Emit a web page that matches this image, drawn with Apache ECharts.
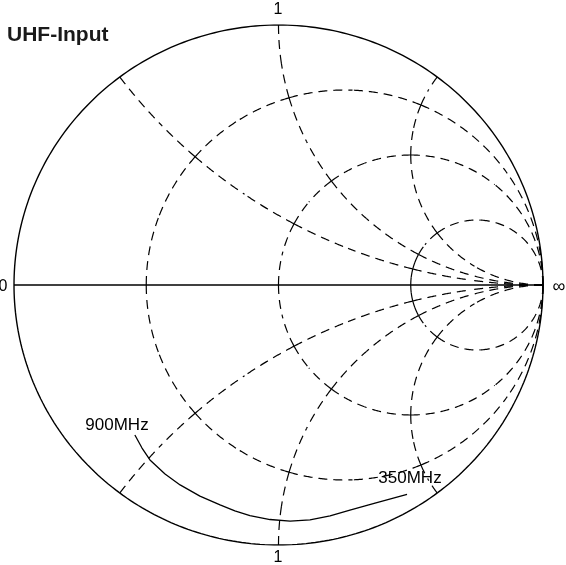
<!DOCTYPE html>
<html>
<head>
<meta charset="utf-8">
<script src="https://cdn.jsdelivr.net/npm/echarts@6/dist/echarts.min.js"></script>
<style>
html,body{margin:0;padding:0;background:#fff;}
#chart{width:566px;height:565px;}
</style>
</head>
<body>
<div id="chart"></div>
<script>
// Smith chart grid values
const resistanceValues = [1/3, 1, 3];
const reactanceValues = [0.5, 1, 2];
// Measured reflection coefficient trace (real / imaginary), 900MHz -> 350MHz
const curveRe = [-0.543, -0.516, -0.486, -0.429, -0.372, -0.297, -0.221, -0.165, -0.108, -0.032, 0.044, 0.119, 0.195, 0.270, 0.365, 0.486];
const curveIm = [-0.577, -0.627, -0.673, -0.727, -0.769, -0.812, -0.846, -0.869, -0.887, -0.902, -0.908, -0.903, -0.888, -0.866, -0.839, -0.805];
// Text labels
const title = 'UHF-Input';
const freqLabels = ['900MHz', '350MHz'];
const edgeLabels = ['0', '1', '1', '\u221E'];

const FONT = '"Liberation Sans", Arial, sans-serif';

function gamma(a, b) {
  const den = (a + 1) * (a + 1) + b * b;
  return [(a * a + b * b - 1) / den, 2 * b / den];
}
function tanSafe(t) {
  if (t >= Math.PI / 2 - 1e-9) return 1e7;
  if (t <= -Math.PI / 2 + 1e-9) return -1e7;
  return Math.tan(t);
}

// Build dashed grid segments (split at intersections, each half drawn from its end)
const segData = [];
const xBreaks = [-Math.PI / 2];
[...reactanceValues].reverse().forEach(x => xBreaks.push(Math.atan(-x)));
xBreaks.push(0);
reactanceValues.forEach(x => xBreaks.push(Math.atan(x)));
xBreaks.push(Math.PI / 2);
const rBreaks = [0];
resistanceValues.forEach(r => rBreaks.push(Math.atan(r)));
rBreaks.push(Math.PI / 2);

resistanceValues.forEach(r => {
  for (let i = 0; i < xBreaks.length - 1; i++) {
    const a0 = xBreaks[i], a1 = xBreaks[i + 1], m = (a0 + a1) / 2;
    segData.push([0, r, a0, m]);
    segData.push([0, r, a1, m]);
  }
});
reactanceValues.forEach(x => {
  [x, -x].forEach(xv => {
    for (let i = 0; i < rBreaks.length - 1; i++) {
      const a0 = rBreaks[i], a1 = rBreaks[i + 1], m = (a0 + a1) / 2;
      segData.push([1, xv, a0, m]);
      segData.push([1, xv, a1, m]);
    }
  });
});

// Outer circle (r = 0)
const outer = [];
for (let i = 0; i <= 360; i++) {
  const t = i * Math.PI / 180;
  outer.push([Math.cos(t), Math.sin(t)]);
}
const curveData = curveRe.map((v, i) => [v, curveIm[i]]);

const chart = echarts.init(document.getElementById('chart'), null, {renderer: 'canvas'});
chart.setOption({
  animation: false,
  backgroundColor: '#fff',
  grid: {left: 14, right: 23, top: 25, bottom: 20},
  xAxis: {type: 'value', min: -1, max: 1, show: false},
  yAxis: {type: 'value', min: -1, max: 1, show: false},
  series: [
    {
      type: 'custom',
      silent: true,
      data: segData,
      encode: {x: 2, y: 3},
      renderItem: function (params, api) {
        const kind = api.value(0), val = api.value(1), t0 = api.value(2), t1 = api.value(3);
        const pts = [];
        const N = 60;
        for (let k = 0; k <= N; k++) {
          const t = t0 + (t1 - t0) * k / N;
          const p = tanSafe(t);
          const g = kind === 0 ? gamma(val, p) : gamma(Math.max(p, 0), val);
          pts.push(api.coord(g));
        }
        return {
          type: 'polyline',
          shape: {points: pts},
          style: {stroke: '#000', lineWidth: 1.2, lineDash: [9, 6], fill: 'none'},
          silent: true
        };
      }
    },
    {
      type: 'line', data: outer, showSymbol: false, silent: true,
      lineStyle: {color: '#000', width: 1.4}
    },
    {
      type: 'line', data: [[-1, 0], [1, 0]], showSymbol: false, silent: true,
      lineStyle: {color: '#000', width: 1.3}
    },
    {
      type: 'line', data: curveData, showSymbol: false, silent: true, smooth: false,
      lineStyle: {color: '#000', width: 1.3, join: 'round'}
    }
  ],
  graphic: [
    {type: 'text', left: 7, top: 25, style: {text: title, font: 'bold 21px ' + FONT, fill: '#1a1a1a'}},
    {type: 'text', x: 117, y: 425, style: {text: freqLabels[0], font: '17px ' + FONT, fill: '#000', align: 'center', verticalAlign: 'middle'}},
    {type: 'text', x: 410, y: 478, style: {text: freqLabels[1], font: '17px ' + FONT, fill: '#000', align: 'center', verticalAlign: 'middle'}},
    {type: 'text', x: 3, y: 287, style: {text: edgeLabels[0], font: '16px ' + FONT, fill: '#000', align: 'center', verticalAlign: 'middle'}},
    {type: 'text', x: 278, y: 10, style: {text: edgeLabels[1], font: '16px ' + FONT, fill: '#000', align: 'center', verticalAlign: 'middle'}},
    {type: 'text', x: 278, y: 558, style: {text: edgeLabels[2], font: '16px ' + FONT, fill: '#000', align: 'center', verticalAlign: 'middle'}},
    {type: 'text', x: 559, y: 287, style: {text: edgeLabels[3], font: '18px ' + FONT, fill: '#000', align: 'center', verticalAlign: 'middle'}}
  ]
});
</script>
</body>
</html>
